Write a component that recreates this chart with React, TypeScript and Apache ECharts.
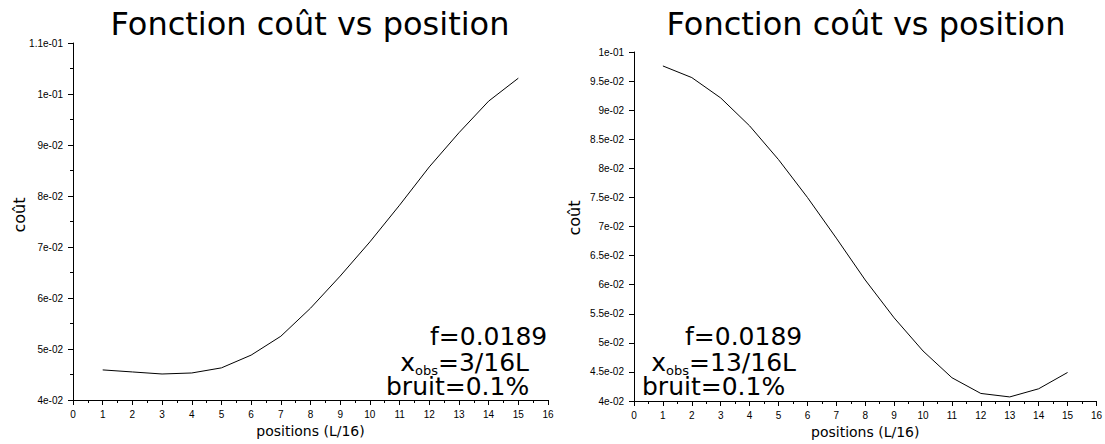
import React, { useEffect, useRef } from "react";
import * as echarts from "echarts";

const positions = [1, 2, 3, 4, 5, 6, 7, 8, 9, 10, 11, 12, 13, 14, 15];
const costLeft = [0.0459, 0.0455, 0.0451, 0.0453, 0.0463, 0.0488, 0.0525, 0.0580, 0.0643, 0.0710, 0.0782, 0.0857, 0.0924, 0.0986, 0.1031];
const costRight = [0.0976, 0.0956, 0.0921, 0.0873, 0.0815, 0.0750, 0.0680, 0.0608, 0.0543, 0.0486, 0.0440, 0.0413, 0.0407, 0.0421, 0.0449];
const titleText = "Fonction coût vs position";
const xName = "positions (L/16)";
const yName = "coût";
const fText = "f=0.0189";
const xobsLeft = "=3/16L";
const xobsRight = "=13/16L";
const bruitText = "bruit=0.1%";

const fmt = (v: number) => {
  const s = Number(v.toPrecision(6)).toExponential();
  return s.replace(/e([+-])(\d)$/, "e$10$2");
};

const FONT = "DejaVu Sans";
const TICKFONT = "Liberation Sans";

function xAxis(gridIndex: number) {
  return {
    type: "value",
    gridIndex,
    min: 0,
    max: 16,
    interval: 1,
    axisLine: { show: true, onZero: false, lineStyle: { color: "#000", width: 1 } },
    axisTick: { show: true, length: 5, lineStyle: { color: "#000" } },
    minorTick: { show: true, splitNumber: 2, length: 3, lineStyle: { color: "#000" } },
    splitLine: { show: false },
    minorSplitLine: { show: false },
    axisLabel: { color: "#000", fontSize: 10, fontFamily: TICKFONT, margin: 9 },
    name: xName,
    nameLocation: "middle",
    nameGap: 24,
    nameTextStyle: { color: "#000", fontSize: 14, fontFamily: FONT },
  };
}

function yAxis(gridIndex: number, max: number, interval: number, minor: boolean) {
  return {
    type: "value",
    gridIndex,
    min: 0.04,
    max,
    interval,
    axisLine: { show: true, onZero: false, lineStyle: { color: "#000", width: 1 } },
    axisTick: { show: true, length: 5, lineStyle: { color: "#000" } },
    minorTick: { show: minor, splitNumber: 2, length: 3, lineStyle: { color: "#000" } },
    splitLine: { show: false },
    minorSplitLine: { show: false },
    axisLabel: { color: "#000", fontSize: 10, fontFamily: TICKFONT, margin: 10, formatter: fmt },
  };
}

function txt(text: string, x: number, y: number, fontSize: number, align = "left", rotation = 0, lineHeight?: number) {
  return {
    type: "text",
    x,
    y,
    rotation,
    style: {
      text,
      fontSize,
      fontFamily: FONT,
      fill: "#000",
      align,
      verticalAlign: "middle",
      lineHeight: lineHeight ?? Math.round(fontSize * 1.15),
    },
  };
}

function xobs(rest: string, xRight: number, y: number) {
  return {
    type: "text",
    x: xRight,
    y,
    style: {
      text: `{m|x}{s|obs}{m|${rest}}`,
      align: "right",
      verticalAlign: "middle",
      fill: "#000",
      rich: {
        m: { fontSize: 25, fontFamily: FONT, fill: "#000", lineHeight: 24, verticalAlign: "top" },
        s: { fontSize: 13, fontFamily: FONT, fill: "#000", lineHeight: 7, verticalAlign: "top", padding: [14, 0, 0, 0] },
      },
    },
  };
}

export default function App() {
  const ref = useRef<HTMLDivElement>(null);
  useEffect(() => {
    if (!ref.current) return;
    const chart = echarts.init(ref.current, null, { renderer: "svg" });
    const fs = 25;
    const c = (b: number, s: number) => b - 0.35 * s;
    chart.setOption({
      animation: false,
      backgroundColor: "#fff",
      grid: [
        { left: 73, top: 43, width: 475, height: 357 },
        { left: 634, top: 52, width: 464, height: 349 },
      ],
      xAxis: [xAxis(0), xAxis(1)],
      yAxis: [yAxis(0, 0.11, 0.01, true), yAxis(1, 0.1, 0.005, false)],
      series: [
        {
          type: "line",
          xAxisIndex: 0,
          yAxisIndex: 0,
          data: positions.map((p, i) => [p, costLeft[i]]),
          showSymbol: false,
          lineStyle: { color: "#000", width: 1 },
          itemStyle: { color: "#000" },
        },
        {
          type: "line",
          xAxisIndex: 1,
          yAxisIndex: 1,
          data: positions.map((p, i) => [p, costRight[i]]),
          showSymbol: false,
          lineStyle: { color: "#000", width: 1 },
          itemStyle: { color: "#000" },
        },
      ],
      graphic: [
        txt(titleText, 310, c(35, 32), 32, "center"),
        txt(titleText, 866, c(35, 32), 32, "center"),
        txt(yName, 19, 215, 16, "center", Math.PI / 2),
        txt(yName, 574, 218, 16, "center", Math.PI / 2),
        // left annotations
        txt(fText, 430, c(345, fs), fs, "left", 0, 22),
        xobs(xobsLeft, 529, c(371, fs)),
        txt(bruitText, 386, c(395, fs), fs, "left", 0, 22),
        // right annotations
        txt(fText, 685, c(345, fs), fs, "left", 0, 22),
        xobs(xobsRight, 796, c(371, fs)),
        txt(bruitText, 642, c(395, fs), fs, "left", 0, 22),
      ],
    });
    return () => chart.dispose();
  }, []);
  return (
    <div
      ref={ref}
      style={{ position: "absolute", left: 0, top: 0, width: 1105, height: 444, background: "#fff" }}
    />
  );
}
